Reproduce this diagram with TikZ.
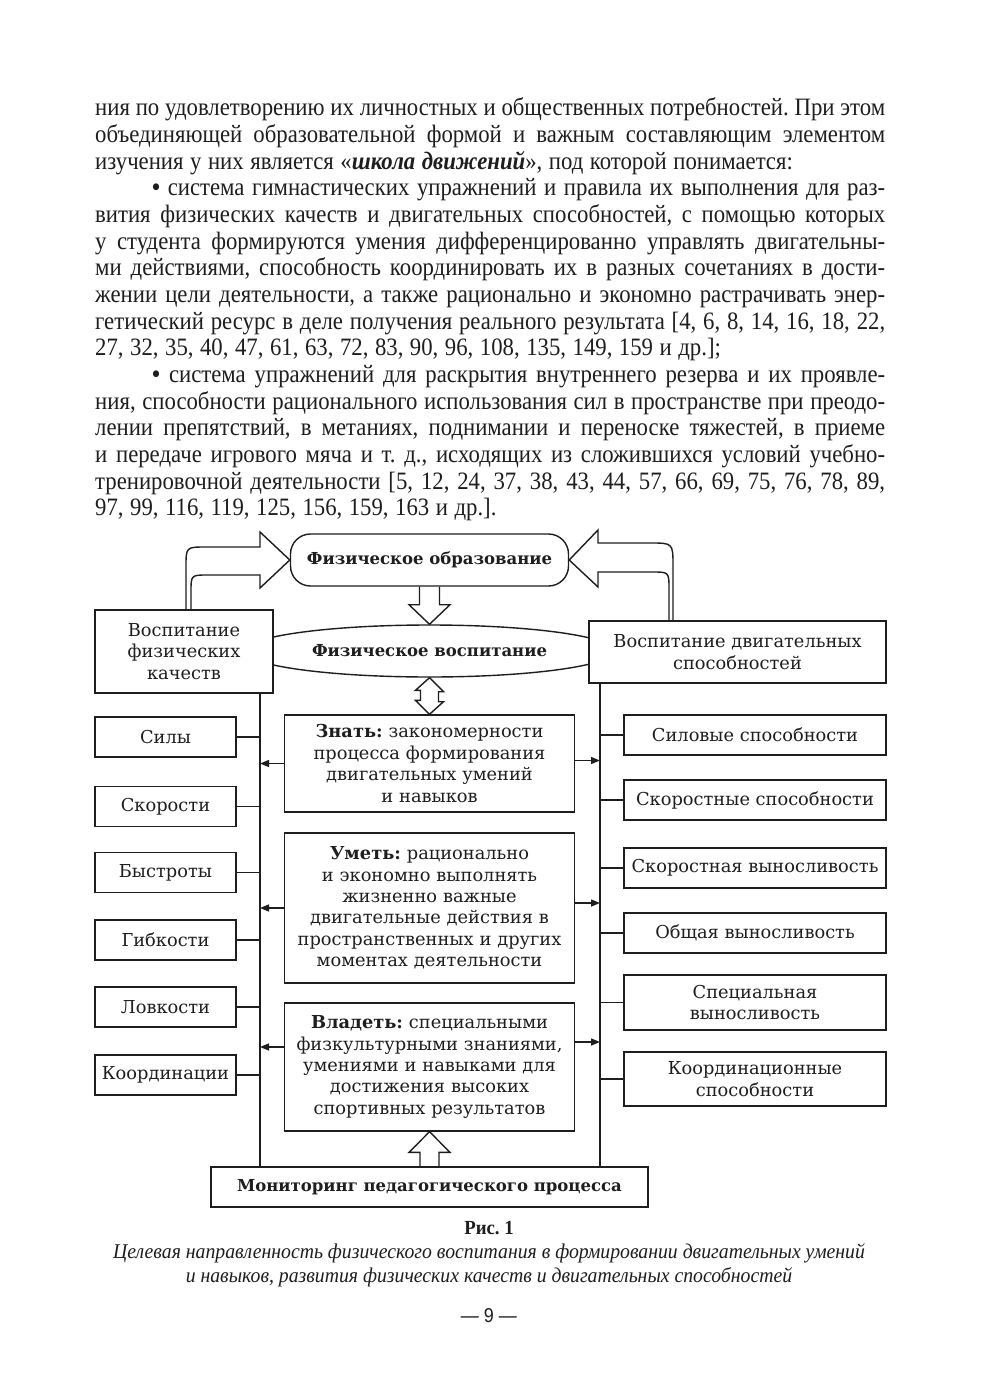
\documentclass[tikz,border=0pt]{standalone}
\usepackage{fontspec}
\usepackage{xcolor}
\setmainfont{Liberation Serif}[FakeStretch=0.91, WordSpace={1.15,1.3,1.6}]
\newfontfamily\schemefont{DejaVu Serif}
\newfontfamily\capfont{Liberation Serif}[FakeStretch=0.94]
\newfontfamily\folio{Liberation Sans}[FakeStretch=0.9]
\usetikzlibrary{shapes.geometric,arrows.meta,calc}
\definecolor{ink}{RGB}{30,30,30}
\frenchspacing

\tikzset{
  scheme/.style={draw=ink, line width=1.4pt, fill=white, text=ink, inner sep=2pt,
    font=\schemefont\fontsize{17.8}{21.4}\selectfont, align=center},
  boldtext/.style={font=\schemefont\bfseries\fontsize{16.5}{21}\selectfont},
  smallbox/.style={scheme, minimum width=141pt, minimum height=40pt},
  abilbox/.style={scheme, minimum width=262pt},
  goalbox/.style={scheme, minimum width=290pt, text width=282pt},
  hollow/.style={draw=ink, line width=1.4pt, line join=miter},
  busarrow/.style={draw=ink, line width=1.4pt, -{Triangle[length=9pt,width=7pt]}}
}

\begin{document}
\begin{tikzpicture}[x=1pt,y=-1pt]
\fill[white] (0,0) rectangle (980,1386);
\useasboundingbox (0,0) rectangle (980,1386);

% page text
\node[anchor=base west, inner sep=0, text width=790pt, align=justify, text=ink,
  font=\fontsize{25}{26.65}\selectfont] (pagetext) at (95,116) {\hyphenpenalty=10000\tolerance=9000
ния по удовлетворению их личностных и общественных потребностей. При этом\linebreak
объединяющей образовательной формой и важным составляющим элементом\linebreak
изучения у~них является «\textbf{\textit{школа движений}}», под которой понимается:\par
\hspace*{57pt}\textbf{•} система гимнастических упражнений и правила их выполнения для раз-\linebreak
вития физических качеств и двигательных способностей, с помощью которых\linebreak
у~студента формируются умения дифференцированно управлять двигательны-\linebreak
ми действиями, способность координировать их в разных сочетаниях в дости-\linebreak
жении цели деятельности, а также рационально и экономно растрачивать энер-\linebreak
гетический ресурс в деле получения реального результата [4, 6, 8, 14, 16, 18, 22,\linebreak
27, 32, 35, 40, 47, 61, 63, 72, 83, 90, 96, 108, 135, 149, 159 и др.];\par
\hspace*{57pt}\textbf{•} система упражнений для раскрытия внутреннего резерва и их проявле-\linebreak
ния, способности рационального использования сил в пространстве при преодо-\linebreak
лении препятствий, в метаниях, поднимании и переноске тяжестей, в приеме\linebreak
и~передаче игрового мяча и т.~д., исходящих из сложившихся условий учебно-\linebreak
тренировочной деятельности [5, 12, 24, 37, 38, 43, 44, 57, 66, 69, 75, 76, 78, 89,\linebreak
97, 99, 116, 119, 125, 156, 159, 163 и др.].};

% scheme
\node[scheme, boldtext, ellipse, minimum width=370pt, minimum height=52pt] (phys) at (429.5,651) {Физическое воспитание};
\node[scheme, boldtext, rounded corners=20pt, minimum width=278pt, minimum height=52pt] (edu) at (429.5,560) {Физическое образование};
\node[scheme, minimum width=178pt, minimum height=83pt] (qual) at (184,651.5) {Воспитание\\физических\\качеств};
\node[scheme, minimum width=297pt, minimum height=62pt] (abil) at (737.5,652) {Воспитание двигательных\\способностей};

\foreach \y/\name/\txt in {737/q1/Силы, 806.5/q2/Скорости, 872.5/q3/Быстроты,
    940/q4/Гибкости, 1007/q5/Ловкости, 1075/q6/Координации}
  \node[smallbox] (\name) at (165.5,\y) {\txt};

\foreach \y/\h/\name/\txt in {735/40/a1/Силовые способности, 800/40/a2/Скоростные способности,
    868/40/a3/Скоростная выносливость, 933/40/a4/Общая выносливость,
    1002.5/55/a5/Специальная\\выносливость, 1079/54/a6/Координационные\\способности}
  \node[abilbox, minimum height=\h pt] (\name) at (755,\y) {\txt};

\node[goalbox, minimum height=97pt] (know) at (429.5,763.5) {\textbf{Знать:} закономерности\\процесса формирования\\двигательных умений\\и навыков};
\node[goalbox, minimum height=150pt] (can) at (429.5,908) {\textbf{Уметь:} рационально\\и экономно выполнять\\жизненно важные\\двигательные действия в\\пространственных и других\\моментах деятельности};
\node[goalbox, minimum height=128pt] (own) at (429.5,1067) {\textbf{Владеть:} специальными\\физкультурными знаниями,\\умениями и навыками для\\достижения высоких\\спортивных результатов};
\node[scheme, boldtext, minimum width=437pt, minimum height=40pt] (mon) at (429.5,1187) {Мониторинг педагогического процесса};

% buses
\coordinate (lbus) at (260,0);
\coordinate (rbus) at (600,0);
\draw[ink, line width=1.4pt] (qual.south -| lbus) -- (mon.north -| lbus);
\draw[ink, line width=1.4pt] (abil.south -| rbus) -- (mon.north -| rbus);
\foreach \n in {q1,q2,q3,q4,q5,q6}
  \draw[ink, line width=1.4pt] (\n.east) -- (\n.east -| lbus);
\foreach \n in {a1,a2,a3,a4,a5,a6}
  \draw[ink, line width=1.4pt] (\n.west) -- (\n.west -| rbus);

\draw[busarrow] (know.west) -- (know.west -| lbus);
\draw[busarrow] ([yshift=3pt]know.east) -- ([yshift=3pt]know.east -| rbus);
\draw[busarrow] (can.west) -- (can.west -| lbus);
\draw[busarrow] ([yshift=5pt]can.east) -- ([yshift=5pt]can.east -| rbus);
\draw[busarrow] ([yshift=20pt]own.west) -- ([yshift=20pt]own.west -| lbus);
\draw[busarrow] ([yshift=25pt]own.east) -- ([yshift=25pt]own.east -| rbus);

% hollow arrows
\draw[hollow] ($(edu.south)+(-10,0)$) -- ++(0,18) -- ++(-10.5,0) -- (phys.north)
  -- ($(edu.south)+(20.5,18)$) -- ++(-10.5,0) -- ($(edu.south)+(10,0)$);
\draw[hollow] (phys.south) -- ++(14,14) -- ++(-5,0) -- ++(0,10) -- ++(5,0) -- (know.north)
  -- ++(-14,-14) -- ++(5,0) -- ++(0,-10) -- ++(-5,0) -- cycle;
\draw[hollow] ($(mon.north)+(-9.5,0)$) -- ($(mon.north)+(-9.5,-14)$) -- ($(mon.north)+(-20.5,-14)$)
  -- (own.south) -- ($(mon.north)+(20.5,-14)$) -- ($(mon.north)+(9.5,-14)$) -- ($(mon.north)+(9.5,0)$);
\draw[hollow] ($(qual.north)+(2,0)$) -- (186,567) .. controls (186,547) .. (206,547) -- (260,547)
  -- (260,532) -- (edu.west) -- (260,588) -- (260,575) -- (208,575) .. controls (191,575) .. (191,592)
  -- ($(qual.north)+(7,0)$);
\draw[hollow] ($(abil.north)+(-64.5,0)$) -- (673,566) .. controls (673,543) .. (650,543) -- (598,543)
  -- (598,530) -- (edu.east) -- (598,587) -- (598,572) -- (652,572) .. controls (669,572) .. (669,589)
  -- ($(abil.north)+(-68.5,0)$);

% caption
\node[font=\capfont\bfseries\fontsize{20}{23}\selectfont, text=ink] (figno) at (489,1228) {Рис. 1};
\node[font=\capfont\itshape\fontsize{21}{23.5}\selectfont, align=center, text=ink, anchor=base] (figcap) at (489,1282)
  {Целевая направленность физического воспитания в формировании двигательных умений\\и навыков, развития физических качеств и двигательных способностей};
\node[font=\folio\fontsize{20}{22}\selectfont, text=ink] (pagenum) at (489,1316) {— 9 —};
\end{tikzpicture}
\end{document}
